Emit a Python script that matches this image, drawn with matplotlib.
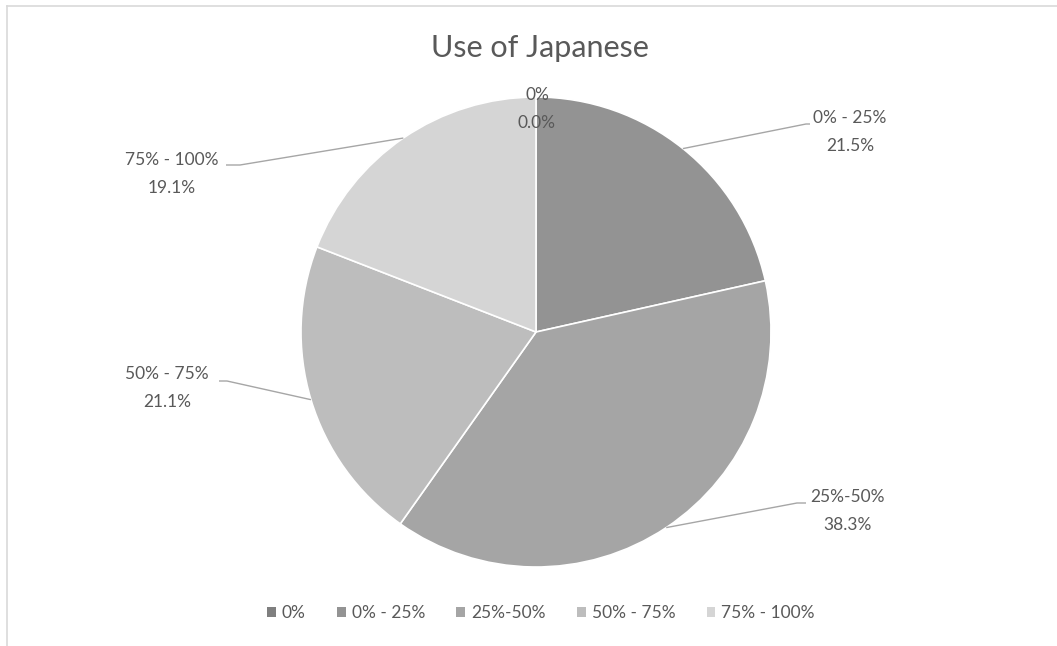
import numpy as np
import matplotlib
matplotlib.use('Agg')
import matplotlib.pyplot as plt
from matplotlib.patches import Patch

# Datos del gráfico
categories = ['0%', '0% - 25%', '25%-50%', '50% - 75%', '75% - 100%']
values = [0.0, 21.5, 38.3, 21.1, 19.1]
title = 'Use of Japanese'

colors = ['#7f7f7f', '#939393', '#a5a5a5', '#bdbdbd', '#d5d5d5']
text_color = '#595959'

W, H = 1057, 646
plt.rcParams['font.family'] = ['Lato', 'DejaVu Sans']

fig = plt.figure(figsize=(W / 100, H / 100), dpi=100)
ax = fig.add_axes([0, 0, 1, 1])
ax.set_xlim(0, W)
ax.set_ylim(0, H)
ax.set_aspect('equal')
ax.axis('off')


def px(x, y):
    # pixel de la imagen -> coordenadas de datos (y hacia arriba)
    return x, H - y


cx, cy = px(536, 332)
radius = 235

wedges, _ = ax.pie(values, colors=colors, startangle=90, counterclock=False,
                   center=(cx, cy), radius=radius,
                   wedgeprops=dict(edgecolor='white', linewidth=1.2))
ax.set_xlim(0, W)
ax.set_ylim(0, H)

# Posición de las etiquetas (centro del texto) y codo de la línea guía
label_pos = [(537, 109), (850, 132), (847, 511), (167, 388), (172, 174)]
elbows = [None, ((806, 124), (810, 124)), ((797, 503), (806, 503)),
          ((227, 381), (219, 381)), ((240, 165), (226, 165))]

for w, cat, val, pos, elb in zip(wedges, categories, values, label_pos, elbows):
    ax.text(*px(*pos), f'{cat}\n{val:.1f}%', ha='center', va='center',
            fontsize=12.5, color=text_color, linespacing=1.93)
    if elb is None:
        continue
    mid = np.deg2rad((w.theta1 + w.theta2) / 2)
    x0 = cx + radius * np.cos(mid)
    y0 = cy + radius * np.sin(mid)
    (ex, ey), (fx, fy) = elb
    ax.plot([x0, ex, fx], [y0, H - ey, H - fy], color='#a6a6a6', lw=1.0,
            solid_capstyle='butt')

ax.text(*px(540, 48), title, ha='center', va='center', fontsize=22,
        color=text_color)

# Leyenda
handles = [Patch(facecolor=c, edgecolor='none') for c in colors]
fig.legend(handles, categories, loc='center', ncol=5,
           bbox_to_anchor=(541 / W, 1 - 613 / H), frameon=False,
           fontsize=12.5, labelcolor=text_color, handlelength=0.5,
           handleheight=0.5, handletextpad=0.35, columnspacing=1.8)

# Borde del área del gráfico
fig.add_artist(plt.Line2D([7 / W, 7 / W], [0, 1 - 6 / H], color='#d9d9d9',
                          lw=1.2, transform=fig.transFigure))
fig.add_artist(plt.Line2D([7 / W, 1], [1 - 6 / H, 1 - 6 / H], color='#d9d9d9',
                          lw=1.2, transform=fig.transFigure))

fig.savefig('out.png', dpi=100, facecolor='white')
